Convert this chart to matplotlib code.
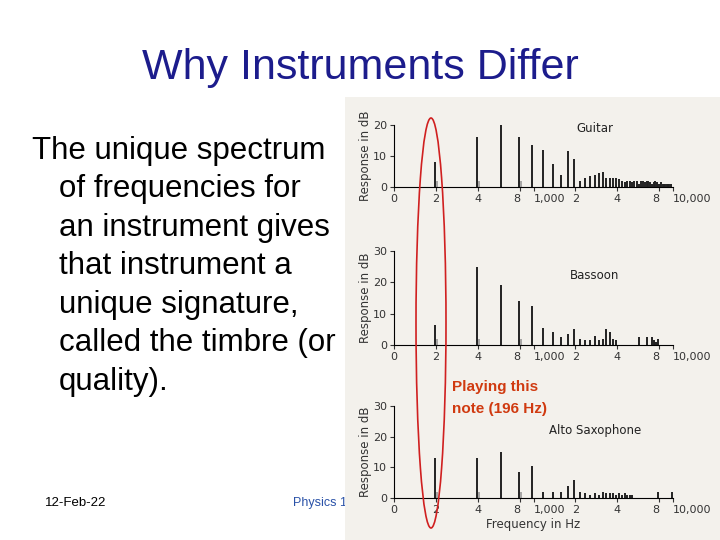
import numpy as np
import matplotlib.pyplot as plt
from matplotlib.patches import Ellipse, Rectangle

f0 = 196
guitar = [8, 16, 20, 16, 13.5, 12, 7.5, 4, 11.5, 9, 2, 3, 3.5, 4, 4.5, 5, 3, 2.8, 3, 3, 2.5, 2,
          1.5, 2, 2, 1.5, 2, 2, 1, 2, 2, 1.5, 2, 2, 1.5, 1, 1.5, 2, 1.5, 1, 1, 1.5, 1, 1, 1, 1, 1, 1, 1]
bassoon = [6.5, 25, 19, 14, 12.5, 5.5, 4, 2.5, 3.5, 5, 2, 1.5, 1.5, 3, 1.5, 2, 5, 4, 2, 1.5,
           0, 0, 0, 0, 0, 0, 0, 0, 2.5, 0, 0, 0, 2.5, 0, 0, 2.5, 1.5, 1, 1, 2]
sax = [13, 13, 15, 8.5, 10.5, 2, 2, 2, 4, 6, 2, 1.5, 1, 1.5, 1, 2, 1.5, 1.5, 1.5, 1, 1.5, 1, 1.5,
       1, 1, 1, 0, 0, 0, 0, 0, 0, 0, 0, 0, 0, 0, 0, 0, 2, 0, 0, 0, 0, 0, 0, 0, 0, 0, 2]
names = ["Guitar", "Bassoon", "Alto Saxophone"]
ymaxs = [20, 30, 30]
yticks = [[0, 10, 20], [0, 10, 20, 30], [0, 10, 20, 30]]
tick_pos = [100, 200, 400, 800, 1000, 2000, 4000, 8000, 10000]
tick_lab = ["0", "2", "4", "8", "1,000", "2", "4", "8", "10,000"]

fig = plt.figure(figsize=(7.2, 5.4), dpi=100)
W, H = 720, 540

def fx(x): return x / W
def fy(y): return 1 - y / H

bg = "#f3f1ec"

fig.text(fx(360), fy(68), "Why Instruments Differ", ha="center", va="center", fontsize=31,
         color="#1c1c8c", family="Liberation Sans")
body = ["The unique spectrum", "of frequencies for", "an instrument gives",
        "that instrument a", "unique signature,", "called the timbre (or", "quality)."]
for i, line in enumerate(body):
    fig.text(fx(32 if i == 0 else 59), fy(151 + i * 38.5), line, ha="left", va="center",
             fontsize=22.5, color="black", family="Liberation Sans")
fig.text(fx(45), fy(503), "12-Feb-22", fontsize=9.5, va="center", family="Liberation Sans")
fig.text(fx(293), fy(503), "Physics 1 (", fontsize=9, va="center", color="#2a52a8",
         family="Liberation Sans", zorder=-2)
fig.patches.append(Rectangle((fx(345), 0), fx(720) - fx(345), fy(97), transform=fig.transFigure,
                             facecolor=bg, edgecolor="none", zorder=-1))

rows = [(187, 125), (345, 251), (498, 406)]
for k, (data, name) in enumerate(zip([guitar, bassoon, sax], names)):
    y0, y1 = rows[k]
    ax = fig.add_axes([fx(394), fy(y0), fx(673) - fx(394), (y0 - y1) / H])
    ax.patch.set_alpha(0)
    freqs = f0 * np.arange(1, len(data) + 1)
    ax.vlines(freqs, 0, data, color="#222222", lw=1.4)
    ax.vlines(freqs[:4] * 1.03, 0, [2, 2, 0, 2], color="#999999", lw=1.2)
    ax.set_xscale("log")
    ax.set_xlim(100, 10000)
    ax.set_ylim(0, ymaxs[k])
    ax.set_xticks(tick_pos)
    ax.set_xticklabels(tick_lab)
    ax.minorticks_off()
    ax.set_yticks(yticks[k])
    for s in ["top", "right"]:
        ax.spines[s].set_visible(False)
    ax.tick_params(labelsize=8, colors="#333333", length=3, pad=2)
    for lab in ax.get_xticklabels():
        if lab.get_text() == "8":
            lab.set_horizontalalignment("right")
        elif lab.get_text() in ("1,000", "10,000"):
            lab.set_horizontalalignment("left")
    ax.set_ylabel("Response in dB", fontsize=8.5, color="#333333", labelpad=1)
    ax.text(0.72, 0.88 if k == 0 else 0.7, name, transform=ax.transAxes, fontsize=8.5,
            ha="center", color="#222222")
    if k == 2:
        ax.set_xlabel("Frequency in Hz", fontsize=8.5, color="#333333", labelpad=2)

fig.patches.append(Ellipse((fx(431), fy(323)), fx(30), 410 / H, transform=fig.transFigure,
                           facecolor="none", edgecolor="#d02020", lw=1.2, zorder=5))
fig.text(fx(452), fy(387), "Playing this", fontsize=11, color="#d03a10", va="center",
         family="Liberation Sans", weight="bold")
fig.text(fx(452), fy(409), "note (196 Hz)", fontsize=11, color="#d03a10", va="center",
         family="Liberation Sans", weight="bold")

fig.savefig("out.png", dpi=100)
